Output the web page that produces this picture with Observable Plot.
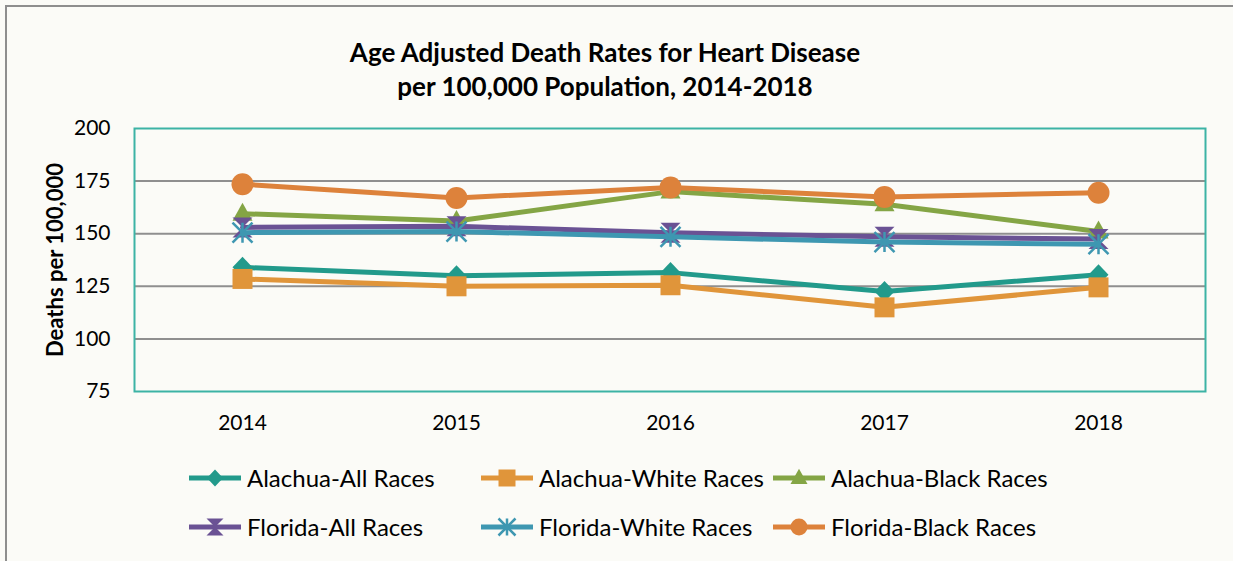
<!DOCTYPE html>
<html>
<head>
<meta charset="utf-8">
<script src="https://cdn.jsdelivr.net/npm/d3@7"></script>
<script src="https://cdn.jsdelivr.net/npm/@observablehq/plot@0.6"></script>
<style>
  html, body { margin: 0; padding: 0; background: #fbfbf7; }
  body { width: 1233px; height: 561px; position: relative; overflow: hidden; font-family: Lato, "Noto Sans", sans-serif; color: #000; }
  #frame { position: absolute; left: 5px; top: 5px; width: 1260px; height: 600px; border: 2px solid #8e8e8e; box-sizing: border-box; }
  #title { position: absolute; left: 0; top: 35px; width: 1210px; text-align: center; font-weight: 700; font-size: 26px; line-height: 34px; }
  #chart { position: absolute; left: 0; top: 110px; }
  #legend { position: absolute; left: 189px; top: 453px; display: grid; grid-template-columns: 292px 292px 292px; grid-auto-rows: 49px; }
  .item { display: flex; align-items: center; font-size: 24px; white-space: nowrap; }
  .item svg { margin-right: 6px; flex: none; }
</style>
</head>
<body>
<div id="frame"></div>
<div id="title">Age Adjusted Death Rates for Heart Disease<br>per 100,000 Population, 2014-2018</div>
<div id="chart"></div>
<div id="legend"></div>
<script>
// ---- data ----
const years = ["2014", "2015", "2016", "2017", "2018"];
const seriesNames = ["Alachua-All Races", "Alachua-White Races", "Alachua-Black Races", "Florida-All Races", "Florida-White Races", "Florida-Black Races"];
const alachuaAll   = [134, 130, 131.5, 122.5, 130.5];
const alachuaWhite = [128.5, 125, 125.5, 115, 124.5];
const alachuaBlack = [159.5, 156, 170, 164, 151];
const floridaAll   = [153, 153.5, 150.5, 148.5, 147.5];
const floridaWhite = [150.5, 151, 148.5, 146, 145];
const floridaBlack = [173.5, 167, 172, 167.5, 169.5];
const yTicks = [75, 100, 125, 150, 175, 200];
const yLabel = "Deaths per 100,000";

const seriesValues = [alachuaAll, alachuaWhite, alachuaBlack, floridaAll, floridaWhite, floridaBlack];
const colors = ["#229a8b", "#e0953a", "#84a545", "#6a5294", "#3e97b1", "#dd823b"];

// ---- custom marker symbols ----
const R = s => Math.sqrt(s / Math.PI);
const symDiamond = {draw(c, s) { const r = R(s); c.moveTo(0, -r); c.lineTo(r * 0.95, 0); c.lineTo(0, r); c.lineTo(-r * 0.95, 0); c.closePath(); }};
const symSquare = {draw(c, s) { const r = R(s); c.moveTo(-r, -r); c.lineTo(r, -r); c.lineTo(r, r); c.lineTo(-r, r); c.closePath(); }};
const symTriangle = {draw(c, s) { const r = R(s); c.moveTo(0, -r * 1.1); c.lineTo(r, r * 0.7); c.lineTo(-r, r * 0.7); c.closePath(); }};
const symHourglass = {draw(c, s) { const r = R(s); c.moveTo(-r, -r); c.lineTo(r, -r); c.lineTo(-r, r); c.lineTo(r, r); c.closePath(); }};
const symStar = {draw(c, s) { const r = R(s); c.moveTo(-r, -r); c.lineTo(r, r); c.moveTo(r, -r); c.lineTo(-r, r); c.moveTo(0, -r); c.lineTo(0, r); }};
const symCircle = {draw(c, s) { const r = R(s); c.moveTo(r, 0); c.arc(0, 0, r, 0, 2 * Math.PI); }};

const markerDefs = [
  {symbol: symDiamond, r: 10.5, fill: true},
  {symbol: symSquare, r: 10, fill: true},
  {symbol: symTriangle, r: 10, fill: true},
  {symbol: symHourglass, r: 10, fill: true},
  {symbol: symStar, r: 10, fill: false},
  {symbol: symCircle, r: 11, fill: true}
];

const rows = seriesNames.map((name, i) => years.map((year, j) => ({series: name, year, value: seriesValues[i][j]})));

const marks = [
  Plot.gridY({ticks: yTicks.slice(1, -1), stroke: "#8f8f8f", strokeOpacity: 1, strokeWidth: 2}),
  Plot.frame({stroke: "#3cb3a5", strokeWidth: 2}),
  Plot.axisY({ticks: yTicks, tickSize: 0, tickPadding: 24, label: null, tickFormat: d => String(d)}),
  Plot.axisX({tickSize: 0, tickPadding: 24, label: null}),
  Plot.text([yLabel], {frameAnchor: "left", text: d => d, rotate: -90, dx: -79, textAnchor: "middle", fontWeight: "bold", fontSize: 22})
];
rows.forEach((data, i) => {
  const m = markerDefs[i];
  marks.push(Plot.line(data, {x: "year", y: "value", stroke: colors[i], strokeWidth: 5, curve: "linear"}));
  marks.push(Plot.dot(data, {
    x: "year", y: "value", r: m.r, symbol: m.symbol,
    fill: m.fill ? colors[i] : "none",
    stroke: m.fill ? "none" : colors[i],
    strokeWidth: m.fill ? 0 : 2.5
  }));
});

const chart = Plot.plot({
  width: 1233,
  height: 340,
  marginLeft: 134,
  marginRight: 28,
  marginTop: 18,
  marginBottom: 59,
  style: {fontFamily: "Lato, 'Noto Sans', sans-serif", fontSize: "21px", background: "transparent", color: "#000"},
  x: {type: "point", domain: years, padding: 0.5},
  y: {domain: [75, 200]},
  marks
});
document.getElementById("chart").appendChild(chart);

// ---- legend ----
const legend = document.getElementById("legend");
seriesNames.forEach((name, i) => {
  const item = document.createElement("div");
  item.className = "item";
  const svg = d3.create("svg").attr("width", 52).attr("height", 24);
  svg.append("line").attr("x1", 0).attr("x2", 52).attr("y1", 12).attr("y2", 12).attr("stroke", colors[i]).attr("stroke-width", 5);
  const m = markerDefs[i];
  const sz = Math.PI * 8.5 * 8.5;
  svg.append("path").attr("transform", "translate(26,12)")
    .attr("d", d3.symbol(m.symbol, sz)())
    .attr("fill", m.fill ? colors[i] : "none")
    .attr("stroke", m.fill ? "none" : colors[i])
    .attr("stroke-width", m.fill ? 0 : 2.5);
  item.appendChild(svg.node());
  const span = document.createElement("span");
  span.textContent = name;
  item.appendChild(span);
  legend.appendChild(item);
});
</script>
</body>
</html>
